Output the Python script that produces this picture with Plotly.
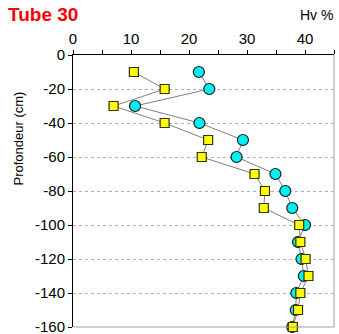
import plotly.graph_objects as go

depth = [-10, -20, -30, -40, -50, -60, -70, -80, -90, -100, -110, -120, -130, -140, -150, -160]
hv_circle = [21.7, 23.5, 10.7, 21.8, 29.3, 28.2, 34.9, 36.6, 37.8, 40.0, 38.8, 39.4, 39.8, 38.5, 38.4, 37.8]
hv_square = [10.5, 15.8, 7.0, 15.8, 23.3, 22.2, 31.3, 33.1, 32.9, 39.0, 39.2, 40.1, 40.6, 39.2, 38.8, 37.9]

x_ticks = [0, 10, 20, 30, 40]
y_ticks = [0, -20, -40, -60, -80, -100, -120, -140, -160]
y_ticktext = ["0", "-20", "-40", "-60", "-80", "-100", "-120", "-140", "-160"]

FONT = "Liberation Sans, Arial, sans-serif"

fig = go.Figure()
fig.add_trace(go.Scatter(
    x=hv_circle, y=depth, mode="lines+markers",
    line=dict(color="#7f7f7f", width=1),
    marker=dict(symbol="circle", size=11, color="#00f0f0",
                line=dict(color="#1a1a1a", width=1.2)),
    showlegend=False, cliponaxis=False))
fig.add_trace(go.Scatter(
    x=hv_square, y=depth, mode="lines+markers",
    line=dict(color="#7f7f7f", width=1),
    marker=dict(symbol="square", size=9, color="#ffff00",
                line=dict(color="#333300", width=1.2)),
    showlegend=False, cliponaxis=False))

fig.update_layout(
    width=339, height=334,
    margin=dict(l=73, r=5, t=55, b=7, autoexpand=False),
    paper_bgcolor="white", plot_bgcolor="white",
    font=dict(family=FONT, size=15, color="black"),
    xaxis=dict(side="top", range=[0, 45], tickvals=x_ticks,
               ticks="outside", ticklen=4, tickcolor="black",
               showline=True, linecolor="black", linewidth=1, mirror=False,
               showgrid=False, zeroline=False, automargin=False,
               ticklabeloverflow="allow",
               minor=dict(dtick=5, ticks="outside", ticklen=4, tickcolor="black"),
               tickfont=dict(size=15)),
    yaxis=dict(range=[-160, 0], tickvals=y_ticks, ticktext=y_ticktext,
               ticks="outside", ticklen=4, tickcolor="black",
               showline=True, linecolor="black", linewidth=1,
               showgrid=True, gridcolor="#b0b0b0", griddash="dot", gridwidth=1,
               zeroline=False, automargin=False, ticklabeloverflow="allow",
               tickfont=dict(size=15)),
    shapes=[
        dict(type="line", xref="paper", yref="paper", x0=1, x1=1, y0=0, y1=1,
             line=dict(color="#a0a0a0", width=1)),
        dict(type="line", xref="paper", yref="paper", x0=0, x1=1, y0=0, y1=0,
             line=dict(color="#a0a0a0", width=1)),
    ],
    annotations=[
        dict(text="<b>Tube 30</b>", xref="paper", yref="paper",
             x=-73/261, y=1 + 55/272, xanchor="left", yanchor="top",
             xshift=6, yshift=-2, showarrow=False,
             font=dict(size=19, color="#ff0000", family=FONT)),
        dict(text="Hv %", xref="paper", yref="paper", x=1, y=1 + 55/272,
             xanchor="right", yanchor="top", xshift=1, yshift=-5, showarrow=False,
             font=dict(size=14, color="black", family=FONT)),
        dict(text="Profondeur (cm)", xref="paper", yref="paper",
             x=-73/261, y=(327 - 139) / 272, xanchor="left", yanchor="middle",
             xshift=8, textangle=-90, showarrow=False,
             font=dict(size=13, color="black", family=FONT)),
    ],
)

fig.write_html("out.html", config={"displayModeBar": False},
               post_script="document.body.style.margin='0';document.body.style.padding='0';")
